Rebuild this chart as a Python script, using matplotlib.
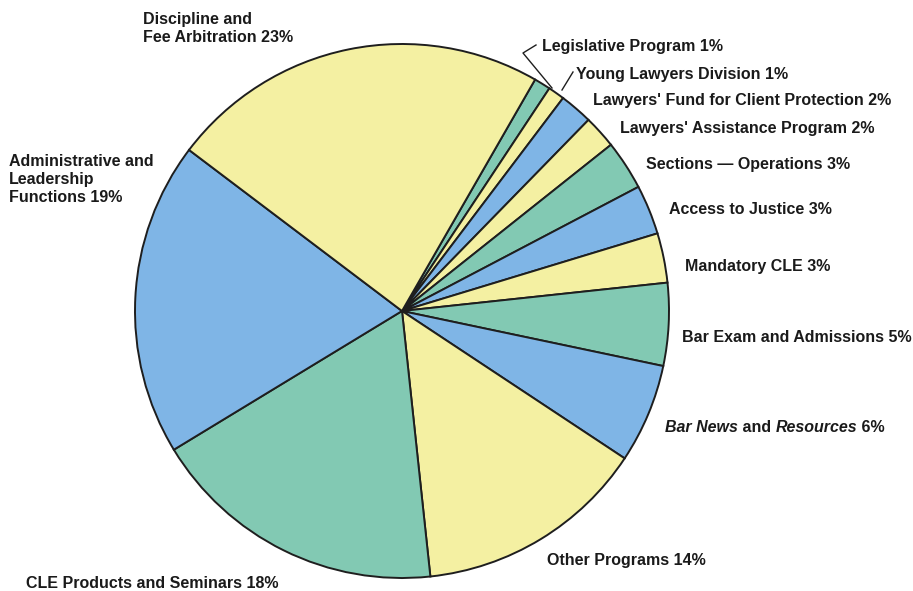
import matplotlib
matplotlib.use("Agg")
import matplotlib.pyplot as plt

plt.rcParams.update({"font.family": "Liberation Sans", "font.weight": "bold",
                     "font.size": 11.5})

# budget shares, clockwise from the top right
labels = ["Legislative Program", "Young Lawyers Division",
          "Lawyers' Fund for Client Protection", "Lawyers' Assistance Program",
          "Sections \u2014 Operations", "Access to Justice", "Mandatory CLE",
          "Bar Exam and Admissions", "Bar News and Resources",
          "Other Programs", "CLE Products and Seminars",
          "Administrative and\nLeadership\nFunctions",
          "Discipline and\nFee Arbitration"]
shares = [1, 1, 2, 2, 3, 3, 3, 5, 6, 14, 18, 19, 23]

YEL, TEAL, BLUE = "#f4f0a2", "#82c9b3", "#7fb5e6"
colors = [TEAL, YEL, BLUE, YEL, TEAL, BLUE, YEL, TEAL, BLUE, YEL, TEAL, BLUE, YEL]

W, H = 913, 591
fig = plt.figure(figsize=(W / 100, H / 100), dpi=100)
ax = fig.add_axes([0, 0, 1, 1])

ax.pie(shares, colors=colors, startangle=60.1, counterclock=False,
       center=(402, H - 311), radius=267,
       wedgeprops=dict(edgecolor="#1e1e1e", linewidth=1.4))
ax.set_xlim(0, W)
ax.set_ylim(0, H)
ax.set_aspect("equal")
ax.axis("off")

# label anchor (left x, centre y of first line) in pixel coords
pos = [(542, 46), (576, 73), (593, 100), (620, 127), (646, 164), (669, 208),
       (685, 265), (682, 337), (665, 427), (547, 560), (26, 583),
       (9, 160), (143, 18)]
tc = "#1a1a1a"
CAP = 5.5      # half cap height, px
LINE = 18.5    # line pitch, px
for i, (lab, v) in enumerate(zip(labels, shares)):
    x, y = pos[i]
    if lab.startswith("Bar News"):
        continue
    y += LINE * lab.count("\n")  # baseline refers to the last line
    ax.text(x, H - y - CAP, f"{lab} {v}%", ha="left", va="baseline",
            color=tc, linespacing=1.28)

# Bar News line with italic publication titles
i = labels.index("Bar News and Resources")
x, y = pos[i]
fig.canvas.draw()
r = fig.canvas.get_renderer()
parts = [("Bar News", "italic"), (" and ", "normal"), ("Resources", "italic"),
         (f" {shares[i]}%", "normal")]
cx = x
for s, st in parts:
    t = ax.text(cx, H - y - CAP, s, ha="left", va="baseline", color=tc,
                style=st)
    cx += t.get_window_extent(r).width

# leader lines for the two thin slices
ax.plot([536, 523, 552], [H - 45, H - 53, H - 88], color="#1e1e1e", lw=1)
ax.plot([573, 562], [H - 72, H - 90], color="#1e1e1e", lw=1)

fig.savefig("out.png", dpi=100, facecolor="white")
